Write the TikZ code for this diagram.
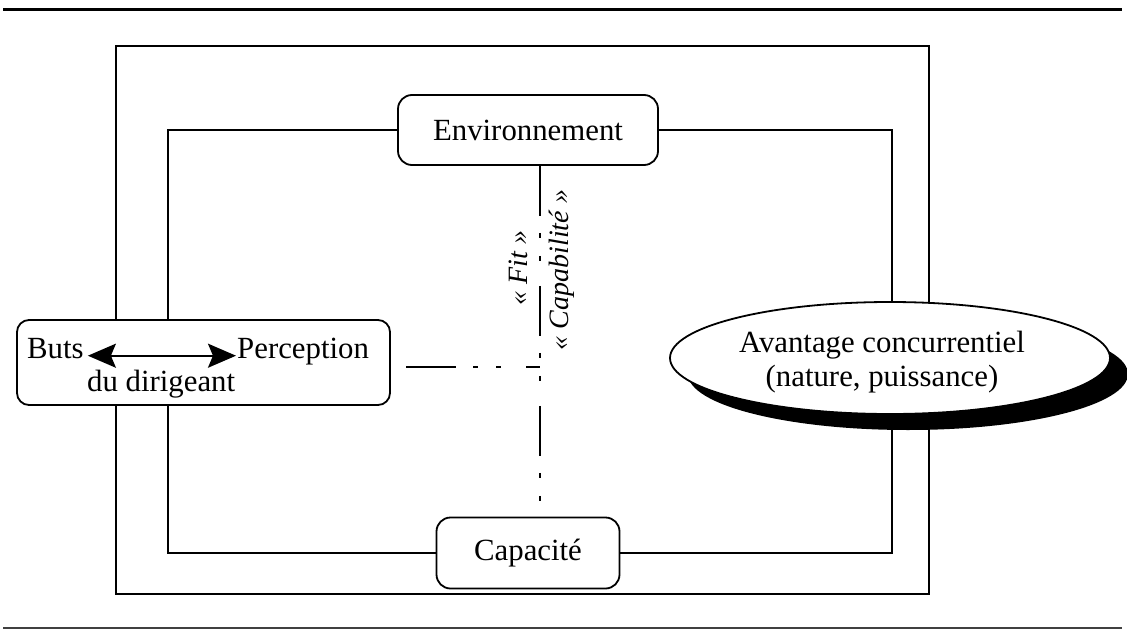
\documentclass[tikz,border=0pt]{standalone}
\usepackage{fontspec}
\setmainfont{Liberation Serif}
\usetikzlibrary{arrows.meta,shapes.geometric}
\begin{document}
\begin{tikzpicture}[x=1pt,y=-1pt,
  frame/.style={line width=1.8pt},
  roundbox/.style={draw, line width=1.8pt, rounded corners=14pt, fill=white, inner sep=0pt},
  lbl/.style={font=\fontsize{30.8}{34}\selectfont, inner sep=0pt},
  slant/.style={font=\fontsize{28}{30}\selectfont\itshape, inner sep=0pt, rotate=90},
  chain/.style={line width=1.8pt, dash pattern=on 50pt off 17pt on 5pt off 18pt on 5pt off 25pt},
  bigtip/.style={{Stealth[length=28pt,width=24pt,inset=5pt]}-{Stealth[length=28pt,width=24pt,inset=5pt]}},
]
\useasboundingbox (0,0) rectangle (1127,637);

% page rules
\draw[line width=3pt] (3,9) -- (1122,9);
\draw[line width=2.5pt, black!75] (3,628) -- (1122,628);

% outer frame
\draw[frame] (116,46) rectangle (929,594);

% top and bottom boxes
\node[roundbox, minimum width=260pt, minimum height=70pt, lbl] (E) at (528,130) {Environnement};
\node[roundbox, minimum width=183pt, minimum height=71pt, lbl] (C) at (528,553) {Capacité};

% inner frame joining the two boxes
\draw[frame] (E.west) -| (168,553) -- (C.west);
\draw[frame] (C.east) -- (892,553) |- (E.east);

% dash-dot axes
\coordinate (X) at (540,367);
\coordinate (Xend) at (540,506);
\coordinate (H) at (406,367);
\draw[chain] (E.south -| X) -- (Xend);
\draw[chain] (H) -- (X);

% rotated labels on both sides of the vertical axis
\node[slant] (fit) at (518,268) {« Fit »};
\node[slant] (capab) at (562,270) {« Capabilité »};

% left box
\node[roundbox, rounded corners=12pt, minimum width=373pt, minimum height=85pt] (L) at (203.5,362.5) {};
\node[lbl, anchor=base west] (buts) at (27,358) {Buts};
\node[lbl, anchor=base west] (perc) at (237,358) {Perception};
\node[lbl, anchor=base west] (dir) at (87,391) {du dirigeant};
\draw[line width=2pt, bigtip, shorten <=4pt, shorten >=1pt] (buts.mid east) -- (perc.mid west);

% shadowed ellipse
\node[ellipse, fill=black, minimum width=440pt, minimum height=112pt, inner sep=0pt] (As) at (908,374) {};
\node[ellipse, draw, line width=1.8pt, fill=white, minimum width=440pt, minimum height=112pt, inner sep=0pt] (A) at (890,358) {};
\node[lbl, align=center] (At) at (882,362) {Avantage concurrentiel\\(nature, puissance)};
\end{tikzpicture}
\end{document}
